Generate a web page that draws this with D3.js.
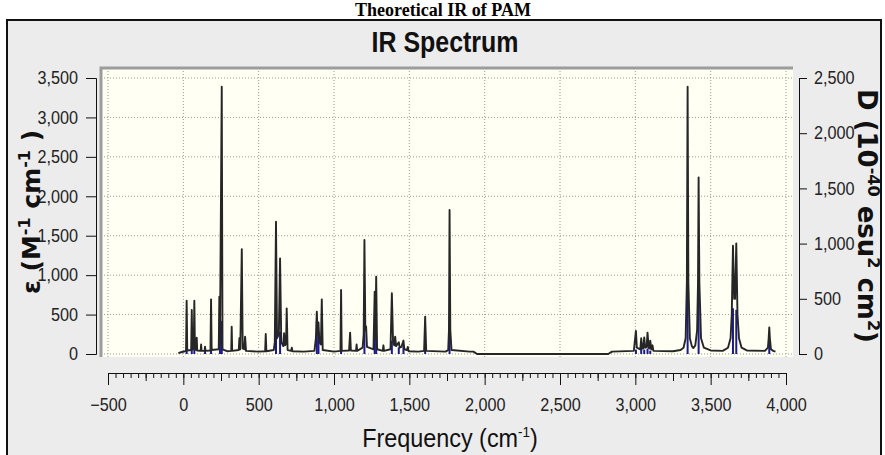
<!DOCTYPE html>
<html>
<head>
<meta charset="utf-8">
<script src="https://cdn.jsdelivr.net/npm/d3@7"></script>
<style>
  body { margin: 0; background: #fff; }
  .tick text { font-family: "Liberation Sans", Arial, sans-serif; font-size: 18px; fill: #222; }
  .axis path, .axis line { stroke: #111; }
</style>
</head>
<body>
<div class="chart"></div>
<script>
// tick values for the three axes
var freqTicks = [-500, 0, 500, 1000, 1500, 2000, 2500, 3000, 3500, 4000];
var epsTicks = [0, 500, 1000, 1500, 2000, 2500, 3000, 3500];
var dipTicks = [0, 500, 1000, 1500, 2000, 2500];

// broadened spectrum (black line): [frequency, epsilon]
var curvePoints = [
  [-33, 10], [-15, 22], [10, 35],
  [18, 40], [22, 676], [26, 45], [52, 50], [56, 558], [60, 55],
  [69, 60], [73, 676], [77, 60], [86, 50], [89, 207], [92, 45],
  [115, 40], [118, 120], [121, 40], [141, 40], [144, 93], [147, 40],
  [180, 45], [184, 693], [188, 50],
  [235, 60], [239, 727], [243, 120], [255, 3390], [260, 60], [290, 35],
  [318, 40], [321, 346], [324, 40],
  [368, 50], [372, 200], [378, 60], [388, 1330], [394, 70], [404, 60], [410, 220], [416, 40],
  [500, 30], [543, 35], [547, 254], [551, 35],
  [600, 50], [607, 150], [615, 1677], [622, 200], [634, 250], [642, 1213], [650, 150],
  [663, 100], [669, 264], [675, 110], [682, 130], [686, 579], [692, 50],
  [716, 40], [720, 80], [724, 35], [800, 30],
  [870, 40], [880, 200], [886, 537], [891, 250], [897, 400], [903, 150], [913, 120], [919, 693], [925, 50],
  [1000, 30], [1043, 40], [1047, 811], [1051, 40],
  [1100, 45], [1107, 271], [1112, 45], [1146, 40], [1150, 120], [1154, 40],
  [1190, 80], [1197, 250], [1202, 1446], [1208, 300], [1213, 350], [1219, 90],
  [1262, 60], [1270, 790], [1275, 200], [1280, 980], [1286, 60],
  [1324, 40], [1328, 110], [1332, 40],
  [1375, 60], [1384, 770], [1392, 150], [1400, 110], [1406, 220], [1412, 100],
  [1430, 150], [1436, 80], [1448, 90], [1461, 170], [1467, 60], [1484, 50], [1490, 90], [1495, 35],
  [1560, 30], [1598, 40], [1605, 473], [1612, 40],
  [1740, 30], [1758, 50], [1763, 300], [1767, 1826], [1772, 300], [1780, 50],
  [1900, 30], [1925, 30], [1950, 0],
  [2820, 0], [2845, 30],
  [2990, 40], [3004, 292], [3010, 80], [3033, 60], [3039, 199], [3045, 70],
  [3052, 70], [3059, 210], [3065, 80], [3075, 90], [3081, 271], [3088, 80],
  [3094, 70], [3099, 170], [3106, 60], [3110, 60], [3114, 110], [3120, 40],
  [3250, 35], [3300, 50], [3320, 80], [3334, 200], [3342, 900], [3347, 3390], [3352, 900],
  [3362, 200], [3375, 100], [3385, 75], [3398, 110], [3410, 300], [3416, 900], [3420, 2240],
  [3425, 900], [3436, 200], [3455, 80], [3500, 45],
  [3580, 40], [3615, 80], [3632, 200], [3640, 500], [3648, 1373], [3656, 700], [3662, 700],
  [3670, 1403], [3678, 500], [3688, 200], [3705, 80], [3740, 45],
  [3860, 40], [3880, 80], [3885, 200], [3889, 338], [3893, 200], [3900, 60], [3915, 40], [3930, 30]
];

// dipole strengths (blue sticks)
var stickFreq = [22, 56, 73, 144, 184, 243, 255, 615, 642, 886, 897, 1047, 1202, 1270, 1280,
  1384, 1430, 1461, 1605, 1767, 3004, 3039, 3059, 3081, 3099, 3347, 3420, 3648, 3670, 3889];
var stickD = [60, 50, 60, 40, 80, 385, 300, 370, 200, 300, 200, 100, 300, 150, 180,
  120, 60, 70, 80, 262, 40, 50, 40, 50, 30, 1000, 650, 414, 400, 100];

var svgWidth = 885;
var svgHeight = 455;

var svg = d3.select(".chart")
  .append("svg")
  .attr("width", svgWidth)
  .attr("height", svgHeight);

// squeeze a text horizontally (the original uses a narrow font)
function squeeze(sel, k) {
  sel.each(function() {
    var w = this.getComputedTextLength();
    d3.select(this)
      .attr("textLength", w * k)
      .attr("lengthAdjust", "spacingAndGlyphs");
  });
}

// outer title
svg.append("text")
  .attr("x", 443)
  .attr("y", 16)
  .attr("text-anchor", "middle")
  .style("font-family", "'Liberation Serif', 'Times New Roman', serif")
  .style("font-weight", "bold")
  .style("font-size", "18px")
  .text("Theoretical IR of PAM");

// window frame
svg.append("rect")
  .attr("x", 7)
  .attr("y", 20)
  .attr("width", 874)
  .attr("height", 450)
  .attr("fill", "#ececec")
  .attr("stroke", "#111")
  .attr("stroke-width", 2);

svg.append("text")
  .attr("x", 445)
  .attr("y", 52)
  .attr("text-anchor", "middle")
  .style("font-family", "'Liberation Sans', Arial, sans-serif")
  .style("font-weight", "bold")
  .style("font-size", "29px")
  .style("fill", "#111")
  .text("IR Spectrum")
  .call(squeeze, 0.86);

// scales
var xScale = d3.scaleLinear().domain([-500, 4000]).range([108, 786]);
var yLeft = d3.scaleLinear().domain([0, 3500]).range([354, 78]);
var yRight = d3.scaleLinear().domain([0, 2500]).range([354, 78]);

// plot area
var plot = { left: 101, right: 793, top: 68, bottom: 357 };

svg.append("rect")
  .attr("x", plot.left)
  .attr("y", plot.top)
  .attr("width", plot.right - plot.left)
  .attr("height", plot.bottom - plot.top)
  .attr("fill", "#fffff3");

// dotted grid
var grid = svg.append("g")
  .attr("stroke", "#9a9a9a")
  .attr("stroke-width", 1)
  .attr("stroke-dasharray", "1,2");

grid.selectAll(".vgrid")
  .data(freqTicks)
  .enter()
  .append("line")
  .attr("x1", d => xScale(d))
  .attr("x2", d => xScale(d))
  .attr("y1", plot.top)
  .attr("y2", plot.bottom);

grid.selectAll(".hgrid")
  .data(epsTicks)
  .enter()
  .append("line")
  .attr("x1", plot.left)
  .attr("x2", plot.right)
  .attr("y1", d => yLeft(d))
  .attr("y2", d => yLeft(d));

// sunken border, top and left
svg.append("path")
  .attr("d", `M${plot.left},${plot.bottom} V${plot.top} H${plot.right}`)
  .attr("fill", "none")
  .attr("stroke", "#9c9c9c")
  .attr("stroke-width", 3);

// blue sticks under the curve
svg.append("g")
  .selectAll("line")
  .data(stickFreq)
  .enter()
  .append("line")
  .attr("x1", d => xScale(d))
  .attr("x2", d => xScale(d))
  .attr("y1", yRight(0))
  .attr("y2", (d, i) => yRight(stickD[i]))
  .attr("stroke", "#1a1a8c")
  .attr("stroke-width", 2);

// broadened curve
var line = d3.line()
  .x(d => xScale(d[0]))
  .y(d => yLeft(d[1]));

svg.append("path")
  .datum(curvePoints)
  .attr("d", line)
  .attr("fill", "none")
  .attr("stroke", "#262626")
  .attr("stroke-width", 1.9)
  .attr("stroke-linejoin", "round");

// left axis
svg.append("g")
  .attr("class", "axis")
  .attr("transform", "translate(96,0)")
  .call(d3.axisLeft(yLeft).tickValues(epsTicks).tickSize(10).tickPadding(8).tickFormat(d3.format(",")))
  .selectAll("text").call(squeeze, 0.9);

// right axis
svg.append("g")
  .attr("class", "axis")
  .attr("transform", "translate(799,0)")
  .call(d3.axisRight(yRight).tickValues(dipTicks).tickSize(8).tickPadding(7).tickFormat(d3.format(",")))
  .selectAll("text").call(squeeze, 0.9);

// x axis: minor, mid and major ticks
var xAxisY = 373;
svg.append("g")
  .attr("class", "axis")
  .attr("transform", `translate(0,${xAxisY})`)
  .call(d3.axisBottom(xScale).tickValues(d3.range(-500, 4001, 50)).tickSize(5).tickFormat(""))
  .select(".domain").remove();

svg.append("g")
  .attr("class", "axis")
  .attr("transform", `translate(0,${xAxisY})`)
  .call(d3.axisBottom(xScale).tickValues(d3.range(-250, 4001, 500)).tickSize(8).tickFormat(""))
  .select(".domain").remove();

svg.append("g")
  .attr("class", "axis")
  .attr("transform", `translate(0,${xAxisY})`)
  .call(d3.axisBottom(xScale).tickValues(freqTicks).tickSize(12).tickSizeOuter(0).tickPadding(13).tickFormat(d3.format(",")))
  .selectAll("text").call(squeeze, 0.9);

// axis titles
var titleFont = "'DejaVu Sans', Verdana, sans-serif";

var xTitle = svg.append("text")
  .attr("transform", "translate(450,447) scale(0.9,1)")
  .attr("text-anchor", "middle")
  .style("font-family", "'Liberation Sans', Arial, sans-serif")
  .style("font-size", "26px")
  .style("fill", "#111");
xTitle.append("tspan").text("Frequency (cm");
xTitle.append("tspan").attr("dy", -10).style("font-size", "15px").text("-1");
xTitle.append("tspan").attr("dy", 10).text(")");

var yTitle = svg.append("text")
  .attr("transform", "translate(40,212) rotate(-90)")
  .attr("text-anchor", "middle")
  .style("font-family", titleFont)
  .style("font-weight", "bold")
  .style("font-size", "25px")
  .style("fill", "#111");
yTitle.append("tspan").text("ε (M");
yTitle.append("tspan").attr("dy", -10).style("font-size", "16px").text("-1");
yTitle.append("tspan").attr("dy", 10).text(" cm");
yTitle.append("tspan").attr("dy", -10).style("font-size", "16px").text("-1");
yTitle.append("tspan").attr("dy", 10).text(" )");

var y2Title = svg.append("text")
  .attr("transform", "translate(858,216) rotate(90)")
  .attr("text-anchor", "middle")
  .style("font-family", titleFont)
  .style("font-weight", "bold")
  .style("font-size", "26px")
  .style("fill", "#111");
y2Title.append("tspan").text("D (10");
y2Title.append("tspan").attr("dy", -10).style("font-size", "16px").text("-40");
y2Title.append("tspan").attr("dy", 10).text(" esu");
y2Title.append("tspan").attr("dy", -10).style("font-size", "16px").text("2");
y2Title.append("tspan").attr("dy", 10).text(" cm");
y2Title.append("tspan").attr("dy", -10).style("font-size", "16px").text("2");
y2Title.append("tspan").attr("dy", 10).text(")");
</script>
</body>
</html>
